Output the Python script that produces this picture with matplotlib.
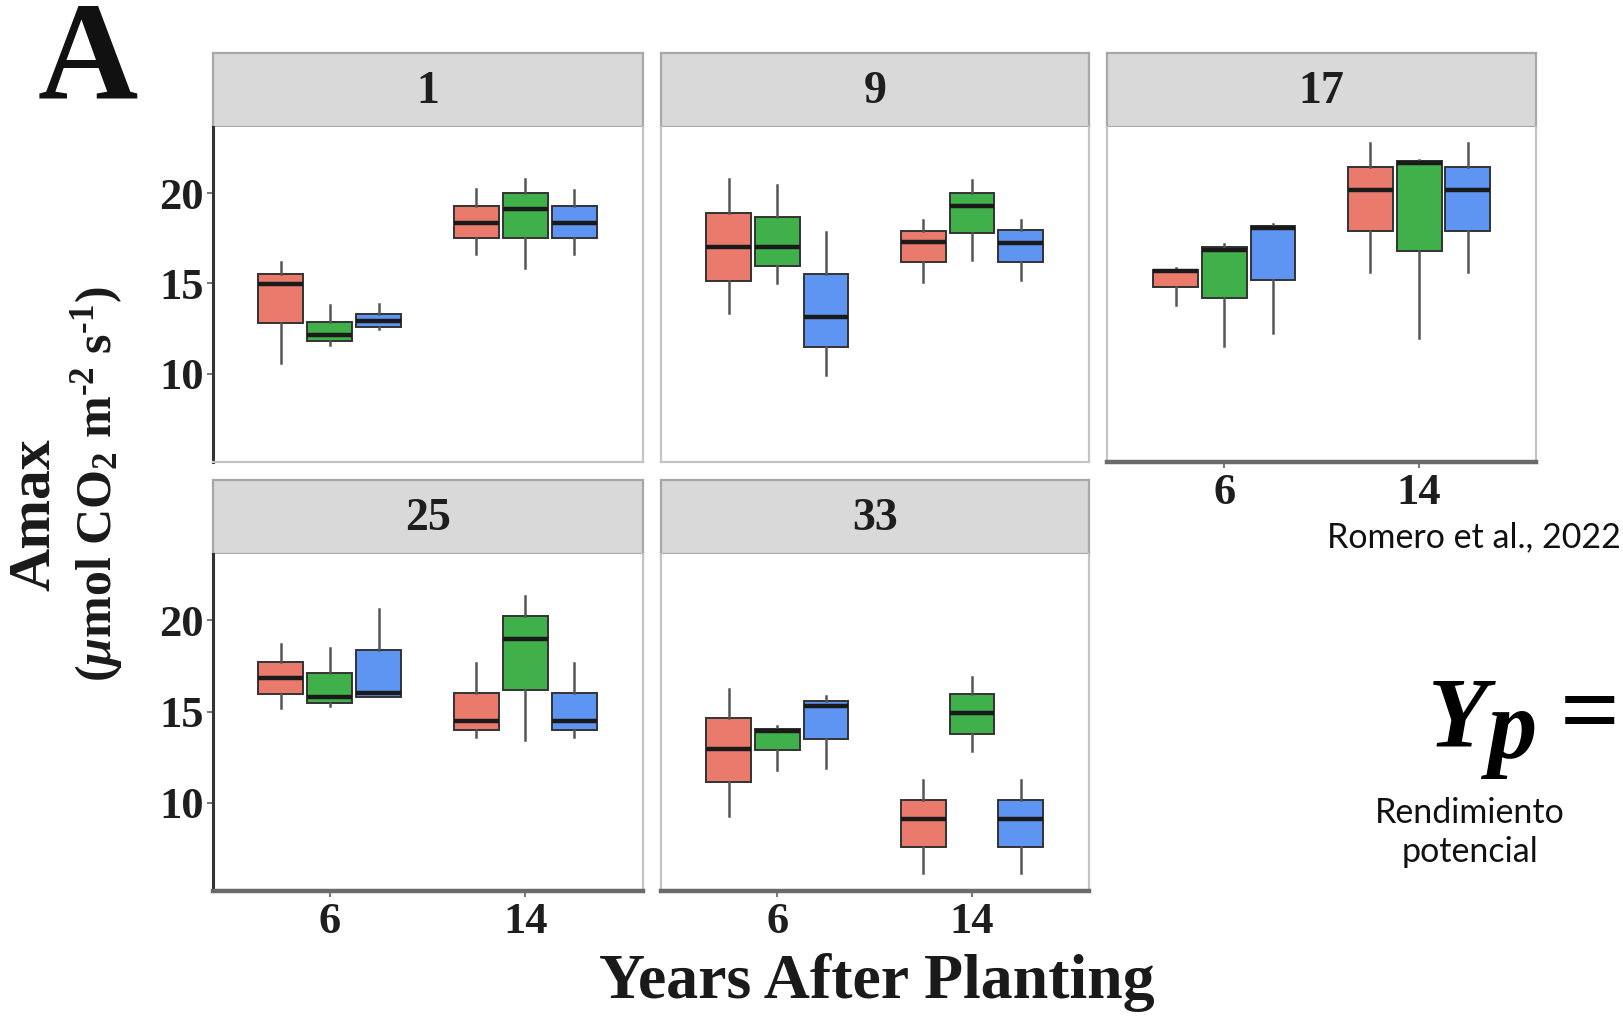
import matplotlib.pyplot as plt
import numpy as np

plt.rcParams['mathtext.fontset'] = 'custom'
plt.rcParams['mathtext.rm'] = 'Liberation Serif:bold'
plt.rcParams['mathtext.it'] = 'Liberation Serif:bold:italic'
plt.rcParams['mathtext.bf'] = 'Liberation Serif:bold'

W, H = 1624, 1018

panels = ['1', '9', '17', '25', '33']
years = ['6', '14']
group_colors = ['#EA7A6C', '#40B04A', '#5E95F2']

# box stats, indexed [panel][year][group]
whislo = [
    [[10.6, 11.6, 12.5], [16.65, 15.83, 16.65]],
    [[13.35, 15.0, 9.94], [15.09, 16.29, 15.18]],
    [[13.8, 11.54, 12.28], [15.64, 12.0, 15.64]],
    [[15.21, 15.3, 15.78], [13.6, 13.45, 13.6]],
    [[9.24, 11.8, 11.89], [6.12, 12.84, 6.12]],
]
q1 = [
    [[12.8, 11.84, 12.57], [17.52, 17.52, 17.52]],
    [[15.15, 15.96, 11.51], [16.2, 17.79, 16.2]],
    [[14.78, 14.21, 15.22], [17.9, 16.8, 17.9]],
    [[15.97, 15.49, 15.78], [13.98, 16.16, 13.98]],
    [[11.14, 12.88, 13.5], [7.54, 13.79, 7.54]],
]
med = [
    [[14.96, 12.15, 12.94], [18.35, 19.14, 18.35]],
    [[16.99, 16.99, 13.16], [17.3, 19.26, 17.26]],
    [[15.68, 16.84, 18.09], [20.15, 21.65, 20.15]],
    [[16.82, 15.81, 16.0], [14.49, 18.96, 14.49]],
    [[12.94, 13.94, 15.3], [9.09, 14.92, 9.09]],
]
q3 = [
    [[15.55, 12.89, 13.29], [19.28, 20.0, 19.28]],
    [[18.9, 18.68, 15.5], [17.89, 20.02, 17.94]],
    [[15.77, 16.99, 18.2], [21.43, 21.76, 21.43]],
    [[17.71, 17.14, 18.37], [16.02, 20.23, 16.02]],
    [[14.64, 14.03, 15.59], [10.15, 15.97, 10.15]],
]
whishi = [
    [[16.2, 13.8, 13.86], [20.24, 20.8, 20.15]],
    [[20.79, 20.42, 17.85], [18.53, 20.74, 18.53]],
    [[15.83, 17.17, 18.27], [22.76, 21.84, 22.76]],
    [[18.71, 18.48, 20.64], [17.67, 21.36, 17.67]],
    [[16.25, 14.2, 15.87], [11.23, 16.91, 11.23]],
]

fig = plt.figure(figsize=(W / 100, H / 100), dpi=100)


def px_axes(x0, y0, x1, y1):
    return fig.add_axes([x0 / W, 1 - y1 / H, (x1 - x0) / W, (y1 - y0) / H])


cols = [(212.5, 642.7), (660.7, 1088.7), (1107.5, 1536)]
rows = [(53.3, 127, 461.7), (480, 554, 891)]
grid = [(0, 0), (0, 1), (0, 2), (1, 0), (1, 1)]
bottom_row = {0: 1, 1: 1, 2: 0}

serif = 'Liberation Serif'
light = '#C4C4C4'

for p, name in enumerate(panels):
    r, c = grid[p]
    x0, x1 = cols[c]
    ys, yp, yb = rows[r]

    # strip header
    sa = px_axes(x0, ys, x1, yp)
    sa.set_facecolor('#D9D9D9')
    sa.set_xticks([])
    sa.set_yticks([])
    for s in sa.spines.values():
        s.set_color('#A8A8A8')
        s.set_linewidth(1.6)
    sa.text(0.5, 0.47, name, transform=sa.transAxes, ha='center', va='center',
            family=serif, fontweight='bold', fontsize=33, color='#1e1e1e')

    ax = px_axes(x0, yp, x1, yb)
    stats, pos = [], []
    for yi in range(len(years)):
        for g in range(3):
            stats.append(dict(whislo=whislo[p][yi][g], q1=q1[p][yi][g], med=med[p][yi][g],
                              q3=q3[p][yi][g], whishi=whishi[p][yi][g]))
            pos.append(yi + 1 + (g - 1) * 0.25)
    bp = ax.bxp(stats, positions=pos, widths=0.23, patch_artist=True,
                showcaps=False, showfliers=False,
                boxprops=dict(edgecolor='#333333', linewidth=1.4),
                medianprops=dict(color='#1a1a1a', linewidth=3.2, solid_capstyle='butt'),
                whiskerprops=dict(color='#555555', linewidth=1.8))
    for i, box in enumerate(bp['boxes']):
        box.set_facecolor(group_colors[i % 3])

    ax.set_xlim(0.4, 2.6)
    ax.set_ylim(5.15, 23.65)
    ax.spines['top'].set_visible(False)
    ax.spines['right'].set_color(light)
    ax.spines['right'].set_linewidth(1.6)

    if c == 0:
        ax.spines['left'].set_color('#333333')
        ax.spines['left'].set_linewidth(2.2)
        ax.set_yticks([10, 15, 20])
        ax.set_yticklabels(['10', '15', '20'])
    else:
        ax.spines['left'].set_color(light)
        ax.spines['left'].set_linewidth(1.6)
        ax.set_yticks([])

    if bottom_row[c] == r:
        ax.spines['bottom'].set_color('#6a6a6a')
        ax.spines['bottom'].set_linewidth(3.2)
        ax.set_xticks([1, 2])
        ax.set_xticklabels(years)
    else:
        ax.spines['bottom'].set_color(light)
        ax.spines['bottom'].set_linewidth(1.6)
        ax.set_xticks([])

    ax.tick_params(length=4, width=1.4, color='#777777', pad=4,
                   labelsize=32, labelcolor='#1e1e1e')
    ax.tick_params(axis='y', pad=2)
    for lab in ax.get_xticklabels() + ax.get_yticklabels():
        lab.set_family(serif)
        lab.set_fontweight('bold')

# axis titles
fig.text(877 / W, 1 - 982 / H, 'Years After Planting', ha='center', va='center',
         family=serif, fontweight='bold', fontsize=46, color='#1a1a1a')
fig.text(35 / W, 1 - 515 / H, 'Amax', rotation=90, ha='center', va='center',
         family=serif, fontweight='bold', fontsize=43, color='#1a1a1a')
fig.text(97 / W, 1 - 484 / H, '($\\mu$mol CO$_2$ m$^{\u2010 2}$ s$^{\u2010 1}$)', rotation=90,
         ha='center', va='center', family=serif, fontweight='bold', fontsize=36,
         color='#1a1a1a')

# panel letter
fig.text(38 / W, 1 - 98 / H, 'A', ha='left', va='baseline', family=serif,
         fontweight='bold', fontsize=100, color='#111111')

# side notes
fig.text(1621 / W, 1 - 547 / H, 'Romero et al., 2022', ha='right', va='baseline',
         family='Lato', fontsize=24.5, color='#111111')
fig.text(1428 / W, 1 - 745 / H, 'Y', ha='left', va='baseline', family=serif,
         fontweight='bold', style='italic', fontsize=71, color='#000000')
fig.text(1487 / W, 1 - 758 / H, 'p', ha='left', va='baseline', family=serif,
         fontweight='bold', style='italic', fontsize=71, color='#000000')
fig.text(1620 / W, 1 - 745 / H, '=', ha='right', va='baseline', family=serif,
         fontweight='bold', fontsize=76, color='#000000')
fig.text(1470 / W, 1 - 823 / H, 'Rendimiento', ha='center', va='baseline',
         family='Lato', fontsize=24.5, color='#111111')
fig.text(1470 / W, 1 - 862 / H, 'potencial', ha='center', va='baseline',
         family='Lato', fontsize=24.5, color='#111111')

fig.savefig('out.png', dpi=100)
